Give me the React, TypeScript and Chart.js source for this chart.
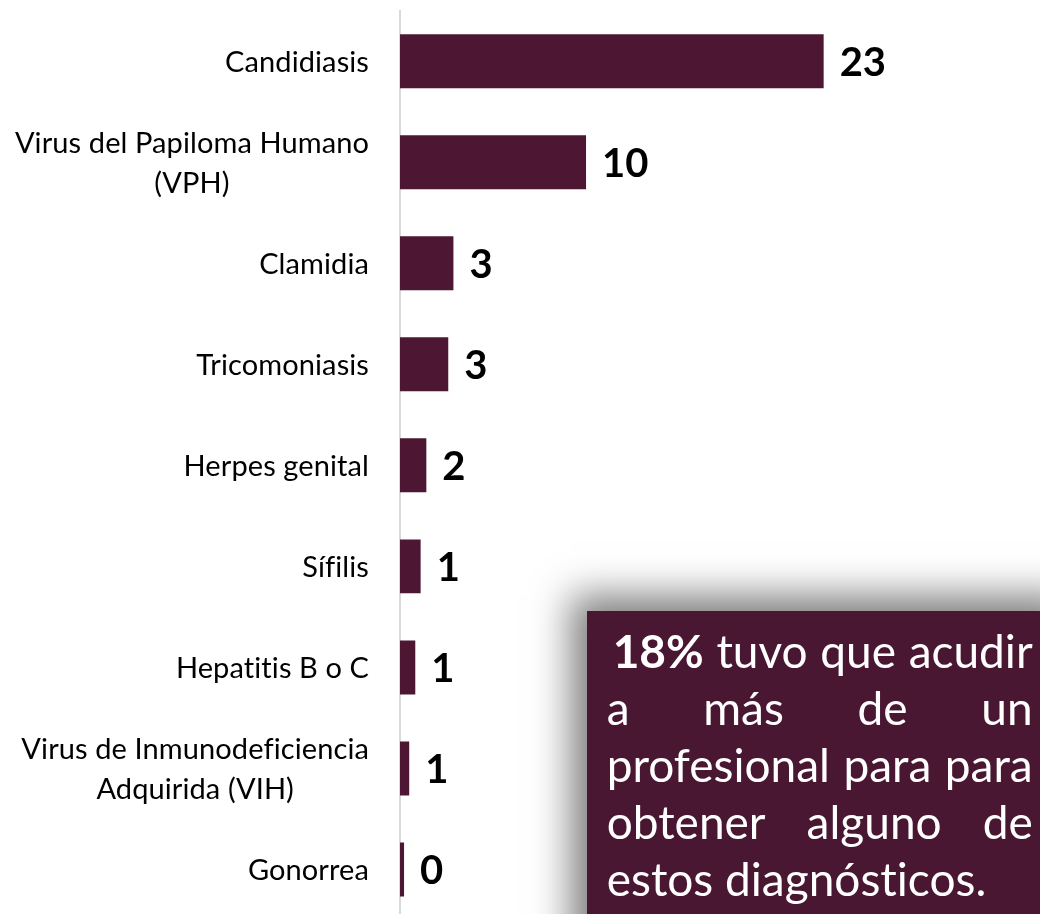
import React, { useEffect, useRef } from "react";
import { Chart, registerables } from "chart.js";

Chart.register(...registerables);

const categories: string[][] = [
  ["Candidiasis"],
  ["Virus del Papiloma Humano", "(VPH)"],
  ["Clamidia"],
  ["Tricomoniasis"],
  ["Herpes genital"],
  ["Sífilis"],
  ["Hepatitis B o C"],
  ["Virus de Inmunodeficiencia", "Adquirida (VIH)"],
  ["Gonorrea"],
];
const values: number[] = [23, 10.1, 2.9, 2.62, 1.43, 1.12, 0.83, 0.5, 0.22];
const valueLabels: string[] = ["23", "10", "3", "3", "2", "1", "1", "1", "0"];

const BAR_COLOR = "#4d1734";
const FONT = "Lato, 'Noto Sans', sans-serif";

const yLabelPlugin = {
  id: "yLabels",
  afterDraw(chart: any) {
    const ctx = chart.ctx;
    const y = chart.scales.y;
    const size = 29;
    const lineGap = 40;
    const right = chart.chartArea.left - 31;
    ctx.save();
    ctx.font = `${size}px ${FONT}`;
    try {
      (ctx as any).letterSpacing = "0.1px";
    } catch (e) {}
    ctx.fillStyle = "#000";
    ctx.textAlign = "center";
    ctx.textBaseline = "alphabetic";
    categories.forEach((lines, i) => {
      const cy = y.getPixelForTick(i);
      const widest = Math.max(...lines.map((l) => ctx.measureText(l).width));
      const cx = right - widest / 2;
      const n = lines.length;
      lines.forEach((l, j) => {
        const off = (j - (n - 1) / 2) * lineGap;
        ctx.fillText(l, cx, cy + off + size * 0.36);
      });
    });
    ctx.restore();
  },
};

const valueLabelPlugin = {
  id: "valueLabels",
  afterDatasetsDraw(chart: any) {
    const ctx = chart.ctx;
    const meta = chart.getDatasetMeta(0);
    const size = 40;
    ctx.save();
    ctx.font = `bold ${size}px ${FONT}`;
    ctx.fillStyle = "#000";
    ctx.textAlign = "left";
    ctx.textBaseline = "alphabetic";
    meta.data.forEach((el: any, i: number) => {
      ctx.fillText(valueLabels[i], el.x + 16, el.y + size * 0.36);
    });
    ctx.restore();
  },
};

export default function App() {
  const ref = useRef<HTMLCanvasElement>(null);
  useEffect(() => {
    if (!ref.current) return;
    const chart = new Chart(ref.current, {
      type: "bar",
      data: {
        labels: categories.map((c) => c.join(" ")),
        datasets: [
          {
            data: values,
            backgroundColor: BAR_COLOR,
            borderWidth: 0,
            categoryPercentage: 1,
            barPercentage: 0.534,
          },
        ],
      },
      options: {
        indexAxis: "y",
        responsive: false,
        animation: false,
        layout: { padding: { top: 10.7, bottom: 10, left: 0, right: 87.4 } },
        plugins: { legend: { display: false }, tooltip: { enabled: false } },
        scales: {
          x: { min: 0, max: 30, display: false },
          y: {
            grid: { display: false, drawTicks: false },
            border: { display: true, color: "#d9d9d9", width: 2 },
            ticks: { display: false },
            afterFit: (s: any) => {
              s.width = 400;
            },
          },
        },
      },
      plugins: [yLabelPlugin, valueLabelPlugin],
    });
    return () => chart.destroy();
  }, []);

  const lineStyle: React.CSSProperties = {
    display: "flex",
    justifyContent: "space-between",
    height: 57,
    lineHeight: "57px",
    whiteSpace: "nowrap",
  };

  return (
    <div
      style={{
        position: "fixed",
        left: 0,
        top: 0,
        width: 1040,
        height: 914,
        overflow: "hidden",
        background: "#fff",
      }}
    >
      <canvas ref={ref} width={1040} height={930} style={{ display: "block" }} />
      <div
        style={{
          position: "absolute",
          left: 586.7,
          top: 610.7,
          width: 500,
          height: 400,
          background: "#4a1732",
          boxShadow: "-16px -16px 36px rgba(0,0,0,0.5)",
          color: "#fff",
          fontFamily: FONT,
          fontSize: 46,
          fontVariantLigatures: "none",
          boxSizing: "border-box",
          paddingLeft: 20,
          paddingTop: 11,
        }}
      >
        <div style={{ width: 426 }}>
          <div style={{ ...lineStyle, paddingLeft: 6 }}>
            <span style={{ fontWeight: "bold" }}>18%</span>
            <span>tuvo</span>
            <span>que</span>
            <span>acudir</span>
          </div>
          <div style={lineStyle}>
            <span>a</span>
            <span>más</span>
            <span>de</span>
            <span>un</span>
          </div>
          <div style={lineStyle}>
            <span>profesional</span>
            <span>para</span>
            <span>para</span>
          </div>
          <div style={lineStyle}>
            <span>obtener</span>
            <span>alguno</span>
            <span>de</span>
          </div>
          <div style={{ ...lineStyle, justifyContent: "flex-start" }}>
            <span>estos diagnósticos.</span>
          </div>
        </div>
      </div>
    </div>
  );
}
